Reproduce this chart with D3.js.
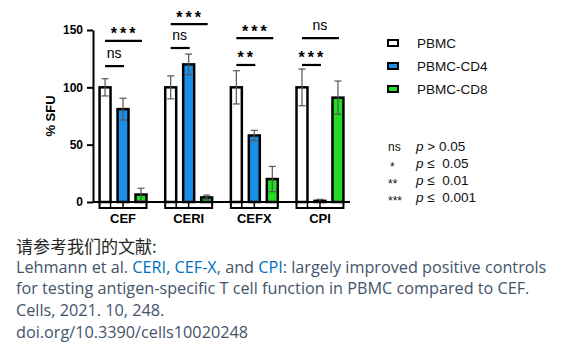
<!DOCTYPE html>
<html>
<head>
<meta charset="utf-8">
<script src="https://cdn.jsdelivr.net/npm/d3@7"></script>
<style>
  html, body { margin: 0; padding: 0; background: #fff; }
  svg { display: block; }
</style>
</head>
<body>
<svg id="chart" width="584" height="349"></svg>
<script>
// Stimulus panels and the three cell populations tested
const categories = ["CEF", "CERI", "CEFX", "CPI"];
const seriesNames = ["PBMC", "PBMC-CD4", "PBMC-CD8"];

// Mean % SFU (normalised to PBMC) and error (SD) per panel
const pbmcMean = [100, 100, 100, 100];
const pbmcErr  = [7.5, 10, 14.5, 16];
const cd4Mean  = [81, 120, 58, 1];
const cd4Err   = [9.5, 9, 4.5, 1.3];
const cd8Mean  = [6.5, 4, 20, 91];
const cd8Err   = [5.5, 2, 11, 14.5];

// Y axis ticks
const yTicks = [0, 50, 100, 150];

// Significance brackets: label, from series, to series, height in % SFU
const sigCEF  = [["***", 0, 2, 140.5], ["ns", 0, 1, 118.5]];
const sigCERI = [["***", 0, 2, 155.2], ["ns", 0, 1, 134.3]];
const sigCEFX = [["***", 0, 2, 142.9], ["**", 0, 1, 119.5]];
const sigCPI  = [["ns", 0, 2, 142.9], ["***", 0, 1, 119.5]];

// p-value key
const pKeySymbols = ["ns", "*", "**", "***"];
const pKeyRelations = ["> 0.05", "\u2264  0.05", "\u2264  0.01", "\u2264  0.001"];

const colors = ["#ffffff", "#1a8fe8", "#22dd22"];

const means = [pbmcMean, cd4Mean, cd8Mean];
const errs = [pbmcErr, cd4Err, cd8Err];
const sigs = [sigCEF, sigCERI, sigCEFX, sigCPI];

const rows = categories.map((c, i) => ({
  category: c,
  bars: seriesNames.map((s, j) => ({ series: j, name: s, value: means[j][i], err: errs[j][i] })),
  sig: sigs[i]
}));

const svg = d3.select("#chart");
const FONT = "'Liberation Sans', Arial, sans-serif";

const y = d3.scaleLinear().domain([0, 150]).range([202, 30]);
const x0 = d3.scaleBand().domain(categories).range([93, 350]).paddingInner(0.285).paddingOuter(0.1);
const x1 = d3.scaleBand().domain(d3.range(seriesNames.length)).range([0, x0.bandwidth()]).paddingInner(0.39);

const baseY = y(0);
const boxBottom = baseY + 6;

// Groups of bars
const g = svg.append("g");
const groups = g.selectAll("g.grp").data(rows).join("g")
  .attr("class", "grp")
  .attr("transform", d => `translate(${x0(d.category)},0)`);

// Foot box under each group
groups.append("rect")
  .attr("x", x1(0)).attr("y", baseY)
  .attr("width", x1(2) + x1.bandwidth() - x1(0)).attr("height", boxBottom - baseY)
  .attr("fill", "#fff").attr("stroke", "#000").attr("stroke-width", 2);
groups.append("line")
  .attr("x1", x1(0) + x1.bandwidth()).attr("x2", x1(0) + x1.bandwidth())
  .attr("y1", baseY).attr("y2", boxBottom)
  .attr("stroke", "#000").attr("stroke-width", 1.5);
groups.append("line")
  .attr("x1", x1(1) + x1.bandwidth() / 2).attr("x2", x1(1) + x1.bandwidth() / 2)
  .attr("y1", baseY).attr("y2", boxBottom)
  .attr("stroke", "#000").attr("stroke-width", 1.5);

// Bars
groups.selectAll("rect.bar").data(d => d.bars).join("rect")
  .attr("class", "bar")
  .attr("x", d => x1(d.series))
  .attr("y", d => y(d.value))
  .attr("width", x1.bandwidth())
  .attr("height", d => baseY - y(d.value))
  .attr("fill", d => colors[d.series])
  .attr("stroke", "#000")
  .attr("stroke-width", 2.5);

// Error bars (both directions, lower half inside bar)
const cap = 3.5;
const eb = groups.selectAll("g.err").data(d => d.bars).join("g").attr("class", "err")
  .attr("transform", d => `translate(${x1(d.series) + x1.bandwidth() / 2},0)`);
eb.append("line")
  .attr("x1", 0).attr("x2", 0)
  .attr("y1", d => y(d.value + d.err)).attr("y2", d => y(Math.max(0, d.value - d.err)))
  .attr("stroke", "#555").attr("stroke-width", 1.2);
eb.append("line")
  .attr("x1", -cap).attr("x2", cap)
  .attr("y1", d => y(d.value + d.err)).attr("y2", d => y(d.value + d.err))
  .attr("stroke", "#555").attr("stroke-width", 1.2);
eb.append("line")
  .attr("x1", -cap).attr("x2", cap)
  .attr("y1", d => y(Math.max(0, d.value - d.err))).attr("y2", d => y(Math.max(0, d.value - d.err)))
  .attr("stroke", "#555").attr("stroke-width", 1.2);

// Significance brackets
const sg = groups.selectAll("g.sig").data(d => d.sig).join("g").attr("class", "sig");
sg.append("line")
  .attr("x1", d => x1(d[1]) + x1.bandwidth() / 2)
  .attr("x2", d => x1(d[2]) + x1.bandwidth() / 2 + 1)
  .attr("y1", d => y(d[3])).attr("y2", d => y(d[3]))
  .attr("stroke", "#000").attr("stroke-width", 2.2);
sg.append("text")
  .attr("x", d => (x1(d[1]) + x1(d[2]) + x1.bandwidth()) / 2 + (d[0] === "ns" ? 0 : 1.5))
  .attr("y", d => y(d[3]) - (d[0] === "ns" ? 8 : 1.5))
  .attr("text-anchor", "middle")
  .attr("font-family", FONT)
  .attr("font-size", d => d[0] === "ns" ? 14 : 16)
  .attr("font-weight", d => d[0] === "ns" ? "normal" : "bold")
  .attr("letter-spacing", d => d[0] === "ns" ? 0 : 3)
  .attr("fill", "#000")
  .text(d => d[0]);

// Y axis
const yAxis = svg.append("g")
  .attr("transform", "translate(93,0)")
  .call(d3.axisLeft(y).tickValues(yTicks).tickSize(6).tickSizeOuter(0).tickPadding(4));
yAxis.select(".domain").attr("stroke", "#000").attr("stroke-width", 2);
yAxis.selectAll(".tick line").attr("stroke", "#000").attr("stroke-width", 2);
yAxis.selectAll(".tick text")
  .attr("font-family", FONT).attr("font-size", 12).attr("font-weight", "bold").attr("fill", "#000");

// X axis baseline
svg.append("line")
  .attr("x1", x0.range()[0]).attr("x2", x0.range()[1])
  .attr("y1", baseY).attr("y2", baseY)
  .attr("stroke", "#000").attr("stroke-width", 2);

// Category labels
svg.selectAll("text.cat").data(categories).join("text")
  .attr("class", "cat")
  .attr("x", d => x0(d) + x0.bandwidth() / 2)
  .attr("y", 223)
  .attr("text-anchor", "middle")
  .attr("font-family", FONT).attr("font-size", 13).attr("font-weight", "bold")
  .text(d => d);

// Y axis title
svg.append("text")
  .attr("transform", "translate(55,116) rotate(-90)")
  .attr("text-anchor", "middle")
  .attr("font-family", FONT).attr("font-size", 13).attr("font-weight", "bold")
  .text("% SFU");

// Series legend
const leg = svg.append("g").attr("transform", "translate(388,0)");
const legRows = leg.selectAll("g").data(seriesNames).join("g")
  .attr("transform", (d, i) => `translate(0,${43 + i * 23})`);
legRows.append("rect")
  .attr("x", 0).attr("y", -3).attr("width", 10).attr("height", 6)
  .attr("fill", (d, i) => colors[i]).attr("stroke", "#000").attr("stroke-width", 2);
legRows.append("text")
  .attr("x", 29).attr("y", 5)
  .attr("font-family", FONT).attr("font-size", 13.5).attr("fill", "#111")
  .text(d => d);

// p-value key
const pk = svg.append("g").attr("transform", "translate(388,0)");
const pkRows = pk.selectAll("g").data(pKeySymbols).join("g")
  .attr("transform", (d, i) => `translate(0,${150.5 + i * 17.3})`);
pkRows.append("text")
  .attr("x", (d, i) => i === 1 ? 2 : 0).attr("y", (d, i) => i === 0 ? 0 : 3)
  .attr("font-family", FONT).attr("font-size", 12).attr("fill", "#111")
  .text(d => d);
const rel = pkRows.append("text")
  .attr("x", 28).attr("y", 0)
  .attr("font-family", FONT).attr("font-size", 13.5).attr("fill", "#111")
  .attr("xml:space", "preserve").style("white-space", "pre");
rel.append("tspan").attr("font-style", "italic").text("p");
rel.append("tspan").text((d, i) => " " + pKeyRelations[i]);

// Reference text
const cite = svg.append("g");
cite.append("text")
  .attr("x", 16).attr("y", 253)
  .attr("font-family", "'Noto Sans CJK SC', sans-serif").attr("font-size", 17)
  .attr("fill", "#262626")
  .text("请参考我们的文献:");

const slate = "#44546a", link = "#0070c0";
const citeLines = [
  [["Lehmann et al. ", slate], ["CERI", link], [", ", slate], ["CEF-X", link], [", and ", slate], ["CPI", link], [": largely improved positive controls", slate]],
  [["for testing antigen-specific T cell function in PBMC compared to CEF.", slate]],
  [["Cells, 2021. 10, 248.", slate]],
  [["doi.org/10.3390/cells10020248", slate]]
];
const citeBase = [273, 294, 315.5, 337.5];
const lineEls = cite.selectAll("text.cl").data(citeLines).join("text")
  .attr("class", "cl")
  .attr("x", 16).attr("y", (d, i) => citeBase[i])
  .attr("font-family", "'Open Sans', sans-serif").attr("font-size", 15)
  .style("white-space", "pre");
lineEls.selectAll("tspan").data(d => d).join("tspan")
  .attr("fill", d => d[1]).text(d => d[0]);

// Fit the font size so the first line spans its column width
const w0 = lineEls.node().getComputedTextLength();
const fs = 15 * 531 / w0;
lineEls.attr("font-size", fs);
</script>
</body>
</html>
